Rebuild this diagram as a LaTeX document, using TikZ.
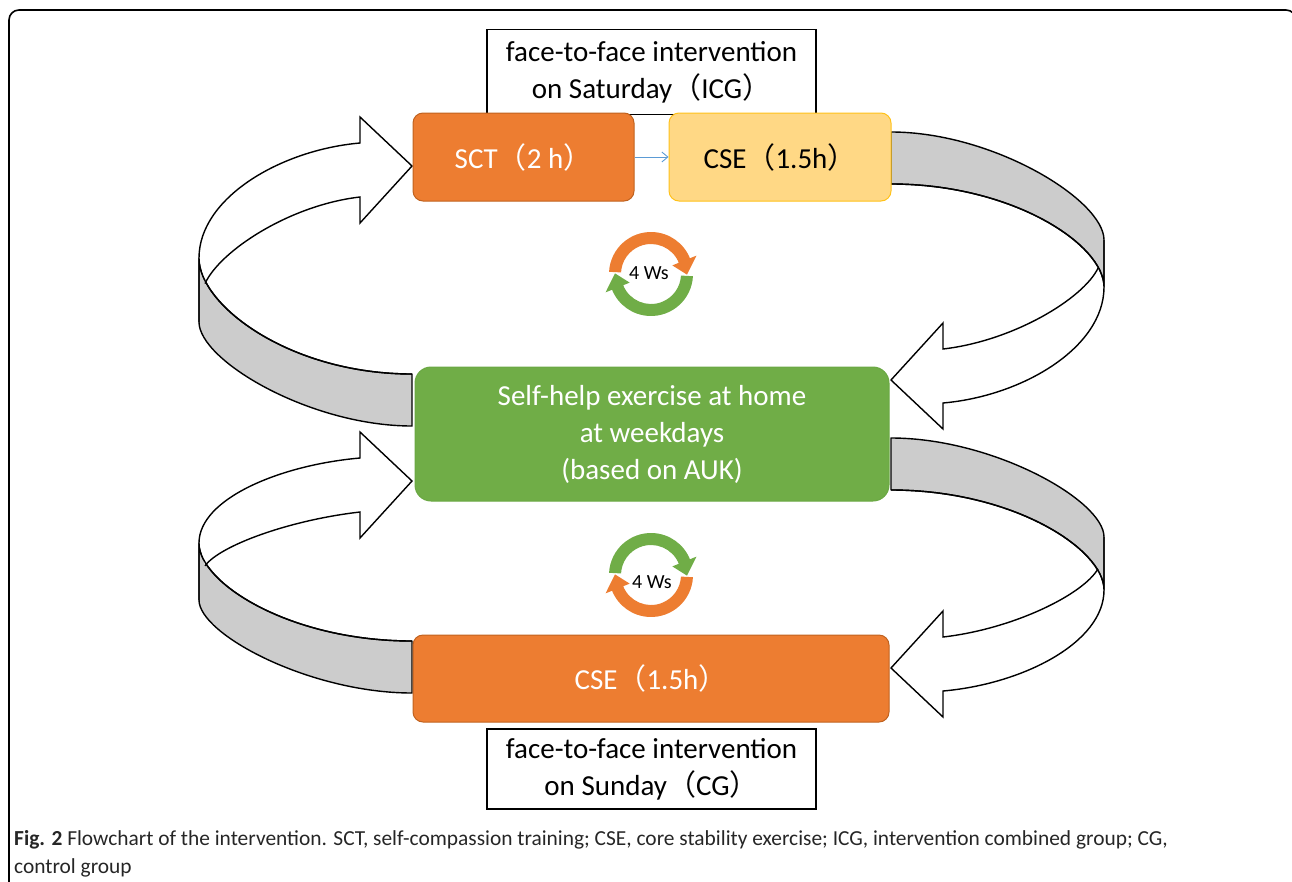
\documentclass[tikz,border=0pt]{standalone}
\usepackage{fontspec}
\setmainfont{Carlito}
\newfontfamily\cjk{Noto Sans CJK SC}
\usetikzlibrary{arrows.meta}
\definecolor{orng}{HTML}{ED7D31}
\definecolor{orngdark}{HTML}{C0621F}
\definecolor{yell}{HTML}{FFD885}
\definecolor{yelldark}{HTML}{FFC21A}
\definecolor{grn}{HTML}{70AD47}
\definecolor{grndark}{HTML}{6AA843}
\definecolor{bandgray}{HTML}{CCCCCC}
\definecolor{bluearrow}{HTML}{5B9BD5}
\newcommand{\boxfont}{\fontsize{29}{37}\selectfont}
\newcommand{\fp}[1]{{\cjk #1}}
\newcommand{\ribarrow}[3]{%
  \pgfmathsetmacro{\rvm}{#1+0.4*(#2-#1)}%
  \pgfmathsetmacro{\rbb}{#3+52}%
  \pgfmathsetmacro{\rca}{#2+0.37*(\rbb-#2)}%
  \pgfmathsetmacro{\rcb}{#1+0.41*(#3-#1)}%
  \pgfmathsetmacro{\rcc}{#1-0.52*(#1-26)}%
  \pgfmathsetmacro{\rcd}{80+0.62*(\rvm-80)}%
  \filldraw[ribband] (0,#3) -- (0,\rbb) .. controls (-102,\rbb) and (-213,\rca) .. (-213,#2) -- (-213,#1) .. controls (-213,\rcb) and (-122,#3) .. (0,#3) -- cycle;
  \fill[white] (-213,#1) .. controls (-213,\rcc) and (-132,33) .. (-52,26) -- (-52,0) -- (0,49) -- (-52,106) -- (-52,80) .. controls (-122,88) and (-192,\rcd) .. (-207,\rvm) -- cycle;
  \draw[ribline] (-213,#1) .. controls (-213,\rcc) and (-132,33) .. (-52,26) -- (-52,0) -- (0,49) -- (-52,106) -- (-52,80) .. controls (-122,88) and (-192,\rcd) .. (-207,\rvm);
  \draw[ribline] (-213,#2) -- (-213,#1) .. controls (-213,\rcb) and (-122,#3) .. (0,#3);
}
\newcommand{\circarr}[2]{%
  \fill[#1] (#2:42) arc[start angle=#2, end angle=#2+155, radius=42] -- (#2+155:49) -- (#2+178:36) -- (#2+155:23) -- (#2+155:30) arc[start angle=#2+155, end angle=#2, radius=30] -- cycle;%
}
\tikzset{
  ribband/.style={fill=bandgray, draw=black, line width=1.4pt, line join=round},
  ribline/.style={draw=black, line width=1.4pt, line join=miter},
  box/.style={rounded corners=10pt, line width=1pt, inner sep=0pt, align=center, font=\boxfont},
  orangebox/.style={box, fill=orng, draw=orngdark, text=white},
  yellowbox/.style={box, fill=yell, draw=yelldark, text=black},
  greenbox/.style={box, rounded corners=16pt, fill=grn, draw=grndark, text=white},
  labelbox/.style={draw=black, line width=1.2pt, fill=white, inner sep=0pt, align=center, font=\boxfont},
  wslabel/.style={font=\fontsize{20}{20}\selectfont, inner sep=0pt},
  bluearr/.style={draw=bluearrow, line width=0.9pt, -{Straight Barb[length=6pt,width=10pt]}},
  caption/.style={anchor=base west, inner sep=0pt, font=\fontsize{21.4}{28}\selectfont, text=black!85}
}
\begin{document}
\begin{tikzpicture}[x=1pt,y=-1pt]
\useasboundingbox (0,0) rectangle (1292,881);
\begin{scope}
  \clip (0,0) rectangle (1292,881);
  \draw[line width=1.6pt, rounded corners=10pt] (9,10) rectangle (1296,920);
\end{scope}

% ribbon arrows
\begin{scope}[shift={(412,117)}]
  \ribarrow{141}{205}{257}
\end{scope}
\begin{scope}[shift={(412,432)}]
  \ribarrow{111}{168}{209}
\end{scope}
\begin{scope}[shift={(891,429)}, rotate=180]
  \ribarrow{142}{189}{245}
\end{scope}
\begin{scope}[shift={(891,717)}, rotate=180]
  \ribarrow{127}{180}{227}
\end{scope}

% circular arrows
\begin{scope}[shift={(651,274)}]
  \circarr{orng}{183}
  \circarr{grn}{3}
\end{scope}
\node[wslabel] (ws1) at (649,273) {4 Ws};
\begin{scope}[shift={(651,575)}]
  \circarr{grn}{183}
  \circarr{orng}{3}
\end{scope}
\node[wslabel] (ws2) at (652,582) {4 Ws};

% boxes
\node[labelbox, minimum width=329, minimum height=85] (toplab) at (651.5,72) {face-to-face intervention\\on Saturday\fp{（}ICG\fp{）}};
\node[orangebox, minimum width=221, minimum height=88] (sct) at (523.5,157) {SCT\fp{（}2 h\fp{）}};
\node[yellowbox, minimum width=222, minimum height=88] (cse1) at (780,157) {CSE\fp{（}1.5h\fp{）}};
\node[greenbox, minimum width=474, minimum height=134] (self) at (652,434) {Self-help exercise at home\\at weekdays\\(based on AUK)};
\node[orangebox, minimum width=476, minimum height=87] (cse2) at (651,678.5) {CSE\fp{（}1.5h\fp{）}};
\node[labelbox, minimum width=329, minimum height=80] (botlab) at (651.5,769) {face-to-face intervention\\on Sunday\fp{（}CG\fp{）}};

\draw[bluearr] (sct) -- (cse1);

% caption
\node[caption] (cap1) at (14,845) {\textbf{Fig. 2} Flowchart of the intervention. SCT, self-compassion training; CSE, core stability exercise; ICG, intervention combined group; CG,};
\node[caption] (cap2) at (14,873) {control group};
\end{tikzpicture}
\end{document}
